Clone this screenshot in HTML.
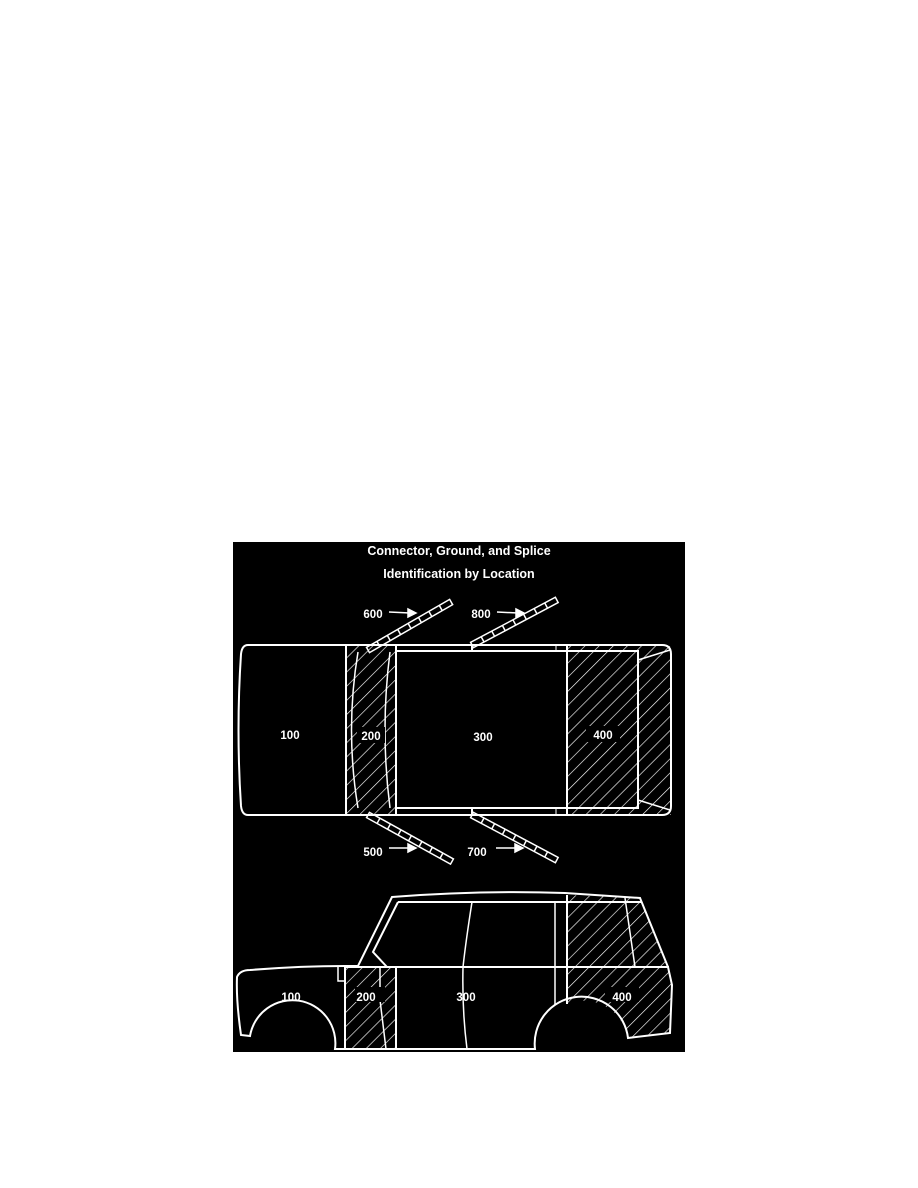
<!DOCTYPE html>
<html><head><style>
html,body{margin:0;padding:0;background:#fff;width:918px;height:1188px;overflow:hidden}
svg{position:absolute;left:0;top:0}
text{font-family:"Liberation Sans",sans-serif;font-weight:bold;fill:#fff}
</style></head><body>
<svg width="918" height="1188" viewBox="0 0 918 1188">
<defs>
<pattern id="h" width="10" height="10" patternUnits="userSpaceOnUse" patternTransform="rotate(45)">
<line x1="0" y1="0" x2="0" y2="10" stroke="#fff" stroke-width="1.3"/>
</pattern>
<g id="stick">
<rect x="0" y="-3" width="96" height="6" fill="none" stroke="#fff" stroke-width="1.5"/>
<path d="M12 -3 V3 M24 -3 V3 M36 -3 V3 M48 -3 V3 M60 -3 V3 M72 -3 V3 M84 -3 V3" stroke="#fff" stroke-width="1.5"/>
</g>
</defs>
<rect x="233" y="542" width="452" height="510" fill="#000"/>
<text x="459" y="555" font-size="12.5" text-anchor="middle">Connector, Ground, and Splice</text>
<text x="459" y="578" font-size="12.5" text-anchor="middle">Identification by Location</text>

<rect x="346" y="646" width="50" height="169" fill="url(#h)"/>
<rect x="567" y="646" width="104" height="169" fill="url(#h)"/>
<g fill="none" stroke="#fff" stroke-width="2">
<path d="M248 645 H662 Q671 645 671 654 V806 Q671 815 662 815 H248 Q242 815 241 806 Q236 730 241 654 Q242 645 248 645 Z"/>
<line x1="346" y1="645" x2="346" y2="815"/>
<line x1="396" y1="645" x2="396" y2="815"/>
<rect x="396" y="651" width="242" height="157"/>
<line x1="567" y1="645" x2="567" y2="815"/>
<line x1="472" y1="645" x2="472" y2="651"/><line x1="472" y1="808" x2="472" y2="815"/>
<line x1="556" y1="645" x2="556" y2="651" stroke-width="1"/><line x1="556" y1="808" x2="556" y2="815" stroke-width="1"/>
<path d="M358 652 Q345 730 358 808" stroke-width="1.5"/>
<path d="M390 652 Q380 730 390 808" stroke-width="1.5"/>
<line x1="638" y1="660" x2="670" y2="650" stroke-width="1.5"/>
<line x1="638" y1="800" x2="670" y2="810" stroke-width="1.5"/>
</g>
<rect x="357" y="727" width="28" height="16" fill="#000"/>
<rect x="586" y="726" width="34" height="16" fill="#000"/>
<text x="290" y="739" font-size="11.5" text-anchor="middle">100</text>
<text x="371" y="740" font-size="11.5" text-anchor="middle">200</text>
<text x="483" y="741" font-size="11.5" text-anchor="middle">300</text>
<text x="603" y="739" font-size="11.5" text-anchor="middle">400</text>

<use href="#stick" transform="translate(368,650) rotate(-30)"/>
<use href="#stick" transform="translate(472,645) rotate(-28)"/>
<use href="#stick" transform="translate(368,815) rotate(29)"/>
<use href="#stick" transform="translate(472,815) rotate(28)"/>
<g stroke="#fff" stroke-width="1.5" fill="#fff">
<line x1="389" y1="612" x2="410" y2="613"/><path d="M416 613 L408 609 L408 617Z"/>
<line x1="497" y1="612" x2="518" y2="613"/><path d="M524 613 L516 609 L516 617Z"/>
<line x1="389" y1="848" x2="410" y2="848"/><path d="M416 848 L408 844 L408 852Z"/>
<line x1="496" y1="848" x2="517" y2="848"/><path d="M523 848 L515 844 L515 852Z"/>
</g>
<text x="373" y="618" font-size="11.5" text-anchor="middle">600</text>
<text x="481" y="618" font-size="11.5" text-anchor="middle">800</text>
<text x="373" y="856" font-size="11.5" text-anchor="middle">500</text>
<text x="477" y="856" font-size="11.5" text-anchor="middle">700</text>

<path d="M345 967 H396 V1049 H345 Z" fill="url(#h)"/>
<path d="M567 895 L640 898 L668 967 L672 985 L670 1033 L628 1038 A45 45 0 0 0 567 1004 Z" fill="url(#h)"/>
<g fill="none" stroke="#fff" stroke-width="2">
<path d="M392 897 Q480 890 565 893 L640 898 L668 967 L672 985 L670 1033 L628 1038 A45 45 0 0 0 535 1049 L335 1049 A43 43 0 0 0 250 1036 L241 1035 Q236 1000 237 977 Q240 970 250 970 Q300 966 345 966 L358 966 Z"/>
<path d="M398 902 L641 902"/>
<path d="M398 902 L373 952 L387 967"/>
<line x1="345" y1="967" x2="669" y2="967"/>
<line x1="345" y1="967" x2="345" y2="1049"/>
<line x1="396" y1="967" x2="396" y2="1049"/>
<line x1="567" y1="895" x2="567" y2="1004"/>
<path d="M338 967 V981 H345" stroke-width="1.5"/>
<path d="M472 902 Q466 940 463 967 Q462 1010 467 1049" stroke-width="1.5"/>
<line x1="555" y1="902" x2="555" y2="1005" stroke-width="1.5"/>
<line x1="625" y1="898" x2="635" y2="967" stroke-width="1.5"/>
<path d="M380 967 L380 987 M380 1000 L386 1049" stroke-width="1.5"/>
</g>
<rect x="355" y="987" width="30" height="15" fill="#000"/>
<rect x="605" y="987" width="34" height="15" fill="#000"/>
<text x="291" y="1001" font-size="11.5" text-anchor="middle">100</text>
<text x="366" y="1001" font-size="11.5" text-anchor="middle">200</text>
<text x="466" y="1001" font-size="11.5" text-anchor="middle">300</text>
<text x="622" y="1001" font-size="11.5" text-anchor="middle">400</text>
</svg>
</body></html>
